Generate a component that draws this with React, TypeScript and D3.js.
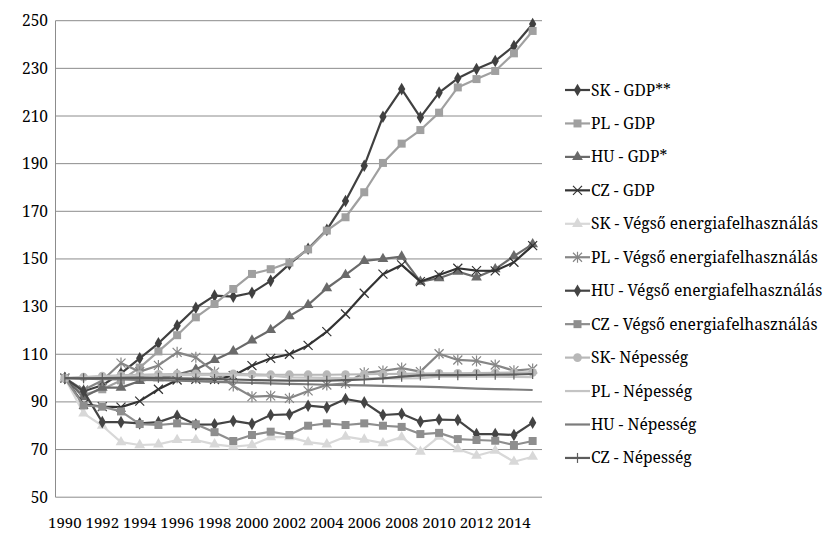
import * as d3 from "d3";
import { useRef, useEffect } from "react";

const years = [
  "1990", "1991", "1992", "1993", "1994", "1995", "1996", "1997", "1998", "1999",
  "2000", "2001", "2002", "2003", "2004", "2005", "2006", "2007", "2008", "2009",
  "2010", "2011", "2012", "2013", "2014", "2015",
];
const yTicks = [50, 70, 90, 110, 130, 150, 170, 190, 210, 230, 250];

const skGdp = [100, 94.5, 97, 102, 108.3, 114.6, 122, 129.5, 134.6, 134.2, 135.8, 140.8, 147.8, 154.3, 162.2, 174.3, 189.1, 209.7, 221.3, 209.4, 219.8, 225.8, 229.7, 233.1, 239.4, 248.6];
const plGdp = [100, 93, 95.3, 99, 104.4, 111.2, 118, 125.5, 131.1, 137.4, 143.7, 145.7, 148.5, 154, 161.9, 167.5, 178, 190.3, 198.4, 204.1, 211.4, 222, 225.5, 228.9, 236.3, 245.7];
const huGdp = [100, 92, 96, 96, 98.8, 100, 101.5, 103.6, 107.6, 111.3, 115.8, 120.2, 126, 130.7, 137.7, 143.3, 149.2, 150, 151, 140.5, 141.9, 144.7, 142.3, 145.7, 151.2, 156.2];
const czGdp = [100, 89, 88, 87.8, 90.3, 95.3, 99.2, 99.5, 99.4, 101, 105.2, 108.3, 110, 113.7, 119.5, 126.9, 135.6, 143.6, 147.5, 140.5, 143.3, 146.1, 145.1, 145, 148.6, 155.6];
const skEnergy = [100, 85.2, 80, 73.1, 71.9, 72.2, 74, 74, 72.2, 71.2, 71.9, 75.2, 75.2, 73.1, 72.2, 75.4, 74.2, 72.7, 75.2, 69.1, 75.4, 70.2, 67.4, 69.5, 64.9, 67];
const plEnergy = [100, 95, 99, 106.3, 102.7, 105.3, 110.8, 108.7, 102.5, 96.7, 92.2, 92.5, 91.5, 94.6, 97.1, 97.8, 102.2, 103, 104.2, 102.7, 110.2, 107.6, 107.2, 105.5, 103.1, 103.8];
const huEnergy = [100, 94.5, 81.5, 81.5, 81, 81.5, 84.2, 80.5, 80.6, 82, 80.8, 84.5, 84.8, 88.4, 87.7, 91.2, 89.8, 84.5, 85, 81.7, 82.6, 82.4, 76.5, 76.5, 76.1, 81.3];
const czEnergy = [100, 88.5, 88, 86, 80.7, 80.3, 81, 80.6, 77.3, 73.6, 76.1, 77.5, 76.1, 80, 81, 80.3, 81, 80, 79.5, 76.5, 77, 74.4, 74, 73.7, 71.9, 73.6];
const skPop = [100, 100.4, 100.8, 101.1, 101.4, 101.6, 101.7, 101.8, 101.8, 101.8, 101.6, 101.4, 101.4, 101.4, 101.4, 101.5, 101.6, 101.7, 101.8, 101.9, 102, 102, 102.1, 102.2, 102.3, 102.4];
const plPop = [100, 100.3, 100.6, 100.8, 101, 101.1, 101.2, 101.2, 101.3, 101.3, 101.1, 101, 100.3, 100.2, 100.1, 100, 99.9, 99.9, 99.9, 100, 100.6, 100.6, 100.6, 100.6, 100.5, 100.4];
const huPop = [100, 99.8, 99.6, 99.4, 99.2, 99.1, 98.9, 98.7, 98.4, 98.2, 98, 97.8, 97.6, 97.4, 97.2, 97, 96.9, 96.7, 96.5, 96.4, 96.2, 95.9, 95.6, 95.4, 95.2, 95];
const czPop = [100, 99.9, 100, 100.1, 100.2, 100.1, 99.9, 99.8, 99.6, 99.4, 99.2, 99, 98.9, 98.9, 98.9, 99.1, 99.4, 99.9, 100.6, 101.1, 101.3, 101.2, 101.3, 101.4, 101.5, 101.7];

type Marker = "diamond" | "square" | "triangle" | "x" | "star" | "circle" | "plus" | "none";

const series: { name: string; values: number[]; color: string; marker: Marker }[] = [
  { name: "SK - GDP**", values: skGdp, color: "#404040", marker: "diamond" },
  { name: "PL - GDP", values: plGdp, color: "#a0a0a0", marker: "square" },
  { name: "HU - GDP*", values: huGdp, color: "#6a6a6a", marker: "triangle" },
  { name: "CZ - GDP", values: czGdp, color: "#333333", marker: "x" },
  { name: "SK - Végső energiafelhasználás", values: skEnergy, color: "#d8d8d8", marker: "triangle" },
  { name: "PL - Végső energiafelhasználás", values: plEnergy, color: "#868686", marker: "star" },
  { name: "HU - Végső energiafelhasználás", values: huEnergy, color: "#444444", marker: "diamond" },
  { name: "CZ - Végső energiafelhasználás", values: czEnergy, color: "#8e8e8e", marker: "square" },
  { name: "SK- Népesség", values: skPop, color: "#b8b8b8", marker: "circle" },
  { name: "PL - Népesség", values: plPop, color: "#c4c4c4", marker: "none" },
  { name: "HU - Népesség", values: huPop, color: "#7c7c7c", marker: "none" },
  { name: "CZ - Népesség", values: czPop, color: "#5c5c5c", marker: "plus" },
];

const drawMarker = (
  g: d3.Selection<SVGGElement, unknown, null, undefined>,
  marker: Marker,
  cx: number,
  cy: number,
  color: string
) => {
  const t = `translate(${cx},${cy})`;
  if (marker === "none") return;
  if (marker === "x" || marker === "plus" || marker === "star") {
    const r = 4.5;
    let d = "";
    if (marker === "x" || marker === "star") d += `M${-r},${-r}L${r},${r}M${-r},${r}L${r},${-r}`;
    if (marker === "plus") d += `M0,${-r - 0.5}L0,${r + 0.5}`;
    if (marker === "star") d += `M0,${-r - 1}L0,${r + 1}`;
    g.append("path").attr("transform", t).attr("d", d).attr("stroke", color).attr("stroke-width", 1.2).attr("fill", "none");
    return;
  }
  const sym =
    marker === "diamond" ? d3.symbolDiamond :
    marker === "square" ? d3.symbolSquare :
    marker === "triangle" ? d3.symbolTriangle : d3.symbolCircle;
  const size = marker === "diamond" ? 46 : marker === "square" ? 64 : marker === "triangle" ? 50 : 60;
  g.append("path")
    .attr("transform", t)
    .attr("d", d3.symbol().type(sym).size(size)()!)
    .attr("fill", color);
};

const Chart = () => {
  const svgRef = useRef<SVGSVGElement | null>(null);

  useEffect(() => {
    if (!svgRef.current) return;
    const svg = d3.select(svgRef.current);
    svg.selectAll("*").remove();

    const font = "Noto Serif, Liberation Serif, serif";
    const left = 55.5, right = 542, top = 20.7, bottom = 497.2;

    const x = d3.scaleBand().domain(years).range([left, right]);
    const xc = (yr: string) => x(yr)! + x.bandwidth() / 2;
    const y = d3.scaleLinear().domain([50, 250]).range([bottom, top]);

    // gridlines
    svg.append("g")
      .selectAll("line")
      .data(yTicks.slice(1))
      .join("line")
      .attr("x1", left).attr("x2", right)
      .attr("y1", (d) => y(d)).attr("y2", (d) => y(d))
      .attr("stroke", "#8c8c8c").attr("stroke-width", 1);

    // axes lines
    svg.append("line").attr("x1", left).attr("x2", left).attr("y1", top).attr("y2", bottom).attr("stroke", "#8c8c8c");
    svg.append("line").attr("x1", left).attr("x2", right).attr("y1", bottom).attr("y2", bottom).attr("stroke", "#8c8c8c");

    // y tick labels
    svg.append("g")
      .selectAll("text")
      .data(yTicks)
      .join("text")
      .attr("x", 48).attr("y", (d) => y(d) + 5.5)
      .attr("text-anchor", "end")
      .attr("font-family", font).attr("font-size", 15.5).attr("fill", "#000")
      .text((d) => d);

    // x tick labels
    svg.append("g")
      .selectAll("text")
      .data(years.filter((_, i) => i % 2 === 0))
      .join("text")
      .attr("x", (d) => xc(d)).attr("y", 528)
      .attr("text-anchor", "middle")
      .attr("font-family", font).attr("font-size", 15).attr("fill", "#000")
      .text((d) => d);

    const line = d3.line<number>()
      .x((_, i) => xc(years[i]))
      .y((d) => y(d));

    series.forEach((s) => {
      const g = svg.append("g");
      g.append("path")
        .datum(s.values)
        .attr("fill", "none")
        .attr("stroke", s.color)
        .attr("stroke-width", 2.2)
        .attr("stroke-linejoin", "round")
        .attr("d", line);
      s.values.forEach((v, i) => drawMarker(g, s.marker, xc(years[i]), y(v), s.color));
    });

    // legend
    const legend = svg.append("g");
    series.forEach((s, i) => {
      const ly = 90 + i * 33.45;
      const lg = legend.append("g");
      lg.append("line")
        .attr("x1", 565).attr("x2", 590).attr("y1", ly).attr("y2", ly)
        .attr("stroke", s.color).attr("stroke-width", 2.2);
      drawMarker(lg, s.marker, 577.5, ly, s.color);
      lg.append("text")
        .attr("x", 591).attr("y", ly + 5.5)
        .attr("font-family", font).attr("font-size", 15.6).attr("fill", "#000")
        .text(s.name);
    });
  }, []);

  return <svg ref={svgRef} width={825} height={534} style={{ display: "block" }}></svg>;
};

export default function App() {
  useEffect(() => {
    document.body.style.margin = "0";
  }, []);
  return <Chart />;
}
